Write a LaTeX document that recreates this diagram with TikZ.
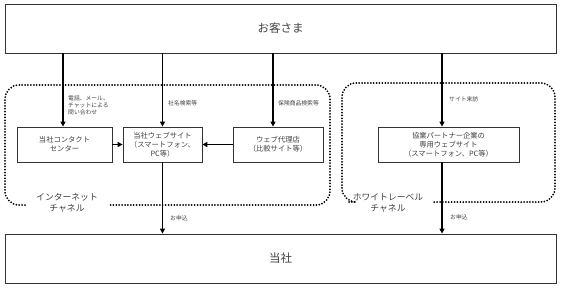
\documentclass[tikz,border=0pt]{standalone}
\usepackage{fontspec}
\setmainfont{Noto Sans CJK JP}
\usetikzlibrary{arrows.meta}
\definecolor{txt}{HTML}{404040}
\tikzset{
  bigbox/.style={draw=black!80, line width=0.8pt, minimum width=551pt, minimum height=49pt, inner sep=0pt, font=\fontsize{11.5}{13}\selectfont, text=txt},
  chbox/.style={draw=black!80, line width=0.8pt, minimum height=35pt, inner sep=0pt, align=center, font=\fontsize{7.3}{9}\selectfont, text=txt},
  arr/.style={line width=1.6pt, -{Triangle[length=5pt,width=5pt]}},
  lbl/.style={anchor=west, inner sep=0pt, align=left, font=\fontsize{5.8}{7}\selectfont, text=txt},
  chlbl/.style={inner sep=0pt, align=center, font=\fontsize{8.8}{10.5}\selectfont, text=txt},
  dotline/.style={line width=2pt, dash pattern=on 0pt off 2.9pt, line cap=round, rounded corners=14pt}
}
\begin{document}
\begin{tikzpicture}[x=1pt,y=-1pt]
\useasboundingbox (0,0) rectangle (561,289);
\node[bigbox] (cust) at (280.5,28.5) {お客さま};
\node[bigbox] (co) at (280.5,258.5) {当社};
\node[chbox, minimum width=95pt] (cc) at (64.5,144.5) {当社コンタクト\\センター};
\node[chbox, minimum width=79pt] (web) at (162.5,144.5) {当社ウェブサイト\\（スマートフォン、\\PC等）};
\node[chbox, minimum width=90pt] (ag) at (278,144.5) {ウェブ代理店\\（比較サイト等）};
\node[chbox, minimum width=141pt] (wl) at (448.5,144.5) {協業パートナー企業の\\専用ウェブサイト\\（スマートフォン、PC等）};
% dotted channel frames
\draw[dotline] (25,205) -- (5,205) -- (5,85) -- (330,85) -- (330,205) -- (108,205);
\draw[dotline] (349,202) -- (342,202) -- (342,83) -- (555,83) -- (555,202) -- (432,202);
% channel labels
\node[chlbl] (l1) at (67,203) {インターネット\\チャネル};
\node[chlbl] (l2) at (388,203) {ホワイトレーベル\\チャネル};
% arrows
\coordinate (c1) at (63,53);
\coordinate (c2) at (162.5,53);
\coordinate (c3) at (273,53);
\coordinate (c4) at (442,53);
\draw[arr] (c1) -- (c1 |- cc.north);
\draw[arr] (c2) -- (web.north);
\draw[arr] (c3) -- (c3 |- ag.north);
\draw[arr] (c4) -- (c4 |- wl.north);
\draw[arr] (cc.east) -- (web.west);
\draw[arr] (ag.west) -- (web.east);
\draw[arr] (web.south) -- (web.south |- co.north);
\draw[arr] (c4 |- wl.south) -- (c4 |- co.north);
% labels
\node[lbl] (t1) at (68,105) {電話、メール、\\チャットによる\\問い合わせ};
\node[lbl] (t2) at (168,103) {社名検索等};
\node[lbl] (t3) at (278,103) {保険商品検索等};
\node[lbl] (t4) at (449,99) {サイト来訪};
\node[lbl] (t5) at (170,218) {お申込};
\node[lbl] (t6) at (450,217) {お申込};
\end{tikzpicture}
\end{document}
